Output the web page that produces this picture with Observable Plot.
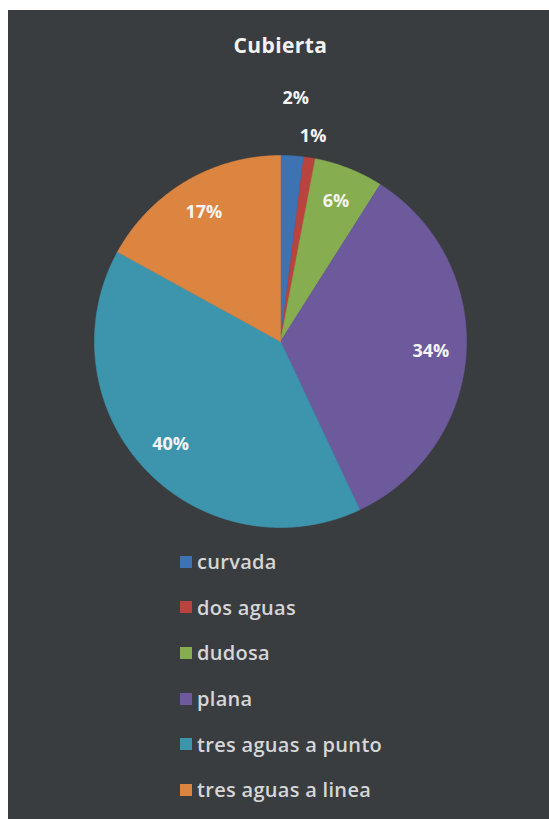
<!DOCTYPE html>
<html>
<head>
<meta charset="utf-8">
<script src="https://cdn.jsdelivr.net/npm/d3@7"></script>
<script src="https://cdn.jsdelivr.net/npm/@observablehq/plot@0.6"></script>
<style>
  html, body { margin: 0; padding: 0; background: #ffffff; }
  #panel {
    position: absolute; left: 8px; top: 10px; width: 541px; height: 809px;
    background: #3a3d40; overflow: hidden;
    font-family: "Open Sans", sans-serif;
  }
  #title {
    position: absolute; left: 0; top: 21px; width: 545px; text-align: center;
    color: #f2f2f2; font-weight: 700; font-size: 21px; line-height: 28px; letter-spacing: 0.4px;
  }
  #chart { position: absolute; left: 0; top: 60px; }
  #legend { position: absolute; left: 172px; top: 529px; }
  #legend .cub-swatches-columns { columns: 1; }
  #legend .cub-swatch {
    height: 45.6px; padding-bottom: 0 !important; display: flex; align-items: center;
    color: #d6d6d6; font-family: "Open Sans", sans-serif; font-size: 20px; font-weight: 600;
    letter-spacing: 0.3px;
  }
  #legend .cub-swatch svg { margin-right: 5px; }
</style>
</head>
<body>
<div id="panel">
  <div id="title">Cubierta</div>
  <div id="chart"></div>
  <div id="legend"></div>
</div>
<script>
// Roof types (share of buildings, %)
const categories = ["curvada", "dos aguas", "dudosa", "plana", "tres aguas a punto", "tres aguas a linea"];
const values = [2, 1, 6, 34, 40, 17];
const colors = ["#3d72b3", "#b9433f", "#86ad4f", "#6c5a9c", "#3d95ad", "#dc8541"];

const total = d3.sum(values);
const slices = d3.pie().sort(null).value(d => d.value)(
  categories.map((name, i) => ({name, value: values[i]}))
);

// Outline of each slice in unit coordinates: centre, arc (clockwise from 12 o'clock), centre
const outline = [];
for (const s of slices) {
  const name = s.data.name;
  const steps = Math.max(2, Math.ceil((s.endAngle - s.startAngle) / (Math.PI / 720)));
  outline.push({name, x: 0, y: 0});
  for (let k = 0; k <= steps; ++k) {
    const a = s.startAngle + (s.endAngle - s.startAngle) * k / steps;
    outline.push({name, x: Math.sin(a), y: Math.cos(a)});
  }
  outline.push({name, x: 0, y: 0});
}

// Percentage labels: inside for large slices, stacked outward above the top for thin ones
const small = slices.map(s => s.data.value / total < 0.05);
const labels = slices.map((s, i) => {
  const mid = (s.startAngle + s.endAngle) / 2;
  const later = small.slice(i + 1).filter(Boolean).length;
  const r = small[i] ? 1.12 + 0.19 * later : 0.81;
  return {name: s.data.name, x: r * Math.sin(mid), y: r * Math.cos(mid),
          text: `${Math.round(100 * s.data.value / total)}%`};
});

const R = 186;
const plot = Plot.plot({
  width: 541,
  height: 477,
  marginLeft: 272 - R,
  marginRight: 541 - 272 - R,
  marginTop: 85,
  marginBottom: 477 - 85 - 2 * R,
  x: {domain: [-1, 1], axis: null},
  y: {domain: [-1, 1], axis: null},
  color: {domain: categories, range: colors},
  style: {background: "transparent", fontFamily: "Open Sans, sans-serif", overflow: "visible"},
  marks: [
    Plot.line(outline, {x: "x", y: "y", z: "name", fill: "name", stroke: "name", strokeWidth: 0.6, curve: "linear"}),
    Plot.text(labels, {x: "x", y: "y", text: "text", fill: "#f4f4f4", fontSize: 18, fontWeight: "bold"})
  ]
});
document.getElementById("chart").appendChild(plot);

const legend = plot.legend("color", {
  columns: 1, swatchSize: 12, className: "cub",
  style: {background: "transparent"}
});
document.getElementById("legend").appendChild(legend);
</script>
</body>
</html>
